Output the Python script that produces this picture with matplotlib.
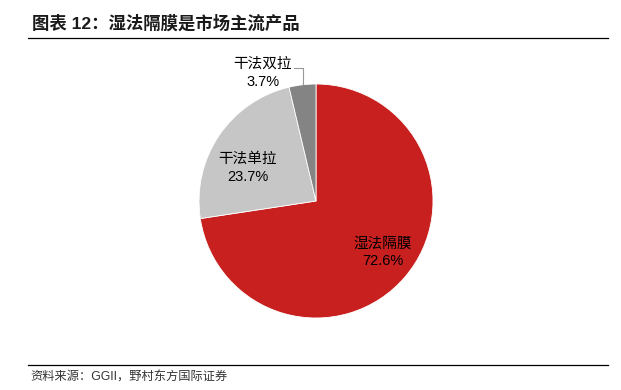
import matplotlib.pyplot as plt
import numpy as np

plt.rcParams['font.family'] = ['Liberation Sans', 'Noto Sans CJK SC', 'DejaVu Sans']

categories = ["湿法隔膜", "干法单拉", "干法双拉"]
shares = [72.6, 23.7, 3.7]
colors = ["#C8201F", "#C6C6C6", "#848484"]

W, H = 621, 390
fig = plt.figure(figsize=(W / 100, H / 100), dpi=100)

# title and rules
fig.text(32 / W, 1 - 23 / H, "图表 12：湿法隔膜是市场主流产品", fontsize=12.5,
         fontweight="bold", va="center", ha="left", color="#1a1a1a")
fig.add_artist(plt.Line2D([28 / W, 608 / W], [1 - 38 / H, 1 - 38 / H],
                          color="black", lw=0.9))
fig.add_artist(plt.Line2D([28 / W, 608 / W], [1 - 365 / H, 1 - 365 / H],
                          color="black", lw=0.9))
fig.text(30 / W, 1 - 378 / H, "资料来源：GGII，野村东方国际证券", fontsize=8.8,
         va="center", ha="left", color="#333333")

# pie
cx, cy, r = 316, 201, 117
ax = fig.add_axes([(cx - r) / W, (H - cy - r) / H, 2 * r / W, 2 * r / H])
wedges, _ = ax.pie(shares, colors=colors, startangle=90, counterclock=False,
                   radius=1, wedgeprops=dict(edgecolor="white", linewidth=0.6))
ax.set_xlim(-1, 1)
ax.set_ylim(-1, 1)
ax.set_aspect("equal")
ax.axis("off")

# label placement (axes data units)
label_pos = [(0.573, -0.44), (-0.585, 0.282), (-0.453, 1.094)]
for name, v, pos in zip(categories, shares, label_pos):
    ax.text(pos[0], pos[1] + 0.077, name, ha="center", va="center",
            fontsize=10.5, clip_on=False)
    ax.text(pos[0], pos[1] - 0.077, f"{v}%", ha="center", va="center",
            fontsize=10.5, clip_on=False)

# leader line for the small wedge
ax.plot([-0.19, -0.115, -0.115], [1.135, 1.135, 1.00], color="#999999",
        lw=0.8, clip_on=False)

fig.savefig("out.png", dpi=100)
